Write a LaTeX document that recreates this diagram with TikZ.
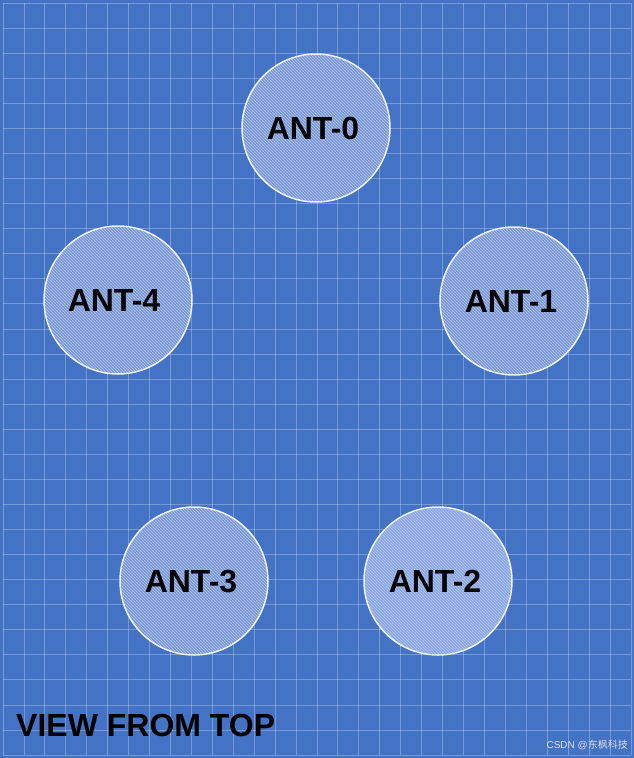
\documentclass[tikz,border=0pt]{standalone}
\usepackage{fontspec}
\setmainfont{Liberation Sans}
\newfontfamily\cjkfont{Noto Sans CJK SC}
\usepackage{tikz}
\usetikzlibrary{patterns}

\definecolor{boardblue}{RGB}{68,114,196}
\definecolor{antfill}{RGB}{124,153,214}
\definecolor{antfilllight}{RGB}{140,168,228}
\definecolor{hatch}{RGB}{176,196,238}
\definecolor{marktext}{RGB}{214,222,238}

\begin{document}
\begin{tikzpicture}[x=1pt, y=-1pt,
  gridline/.style={white, opacity=0.27, line width=0.8pt},
  antenna/.style={circle, draw=white!90!boardblue, line width=1.5pt, minimum size=148pt, inner sep=0pt,
    preaction={fill=antfill}, pattern=north west lines, pattern color=hatch,
    font=\fontsize{32}{34}\selectfont\bfseries, text=black},
  caption/.style={font=\fontsize{32}{34}\selectfont\bfseries, text=black, anchor=west, inner sep=0pt}
]
  \useasboundingbox (0,0) rectangle (634,758);
  \fill[boardblue] (0,0) rectangle (634,758);

  % grid
  \foreach \i in {0,...,30} {
    \draw[gridline] ({3+\i*20.93},3) -- ({3+\i*20.93},755);
    \draw[gridline] (3,{3+\i*25.07}) -- (631,{3+\i*25.07});
  }

  % antennas
  \node[antenna] (ant0) at (316,128) {\hspace*{-6pt}ANT-0};
  \node[antenna] (ant1) at (514,301) {\hspace*{-6pt}ANT-1};
  \node[antenna, preaction={fill=antfilllight}] (ant2) at (438,581) {\hspace*{-6pt}ANT-2};
  \node[antenna] (ant3) at (194,581) {\hspace*{-6pt}ANT-3};
  \node[antenna] (ant4) at (118,300) {\hspace*{-8pt}ANT-4};

  \node[caption] (view) at (16,725) {VIEW FROM TOP};
  \node[font=\fontsize{10}{12}\selectfont, text=marktext, anchor=east, inner sep=0pt] (mark) at (628,745) {CSDN @{\cjkfont 东枫科技}};
\end{tikzpicture}
\end{document}
